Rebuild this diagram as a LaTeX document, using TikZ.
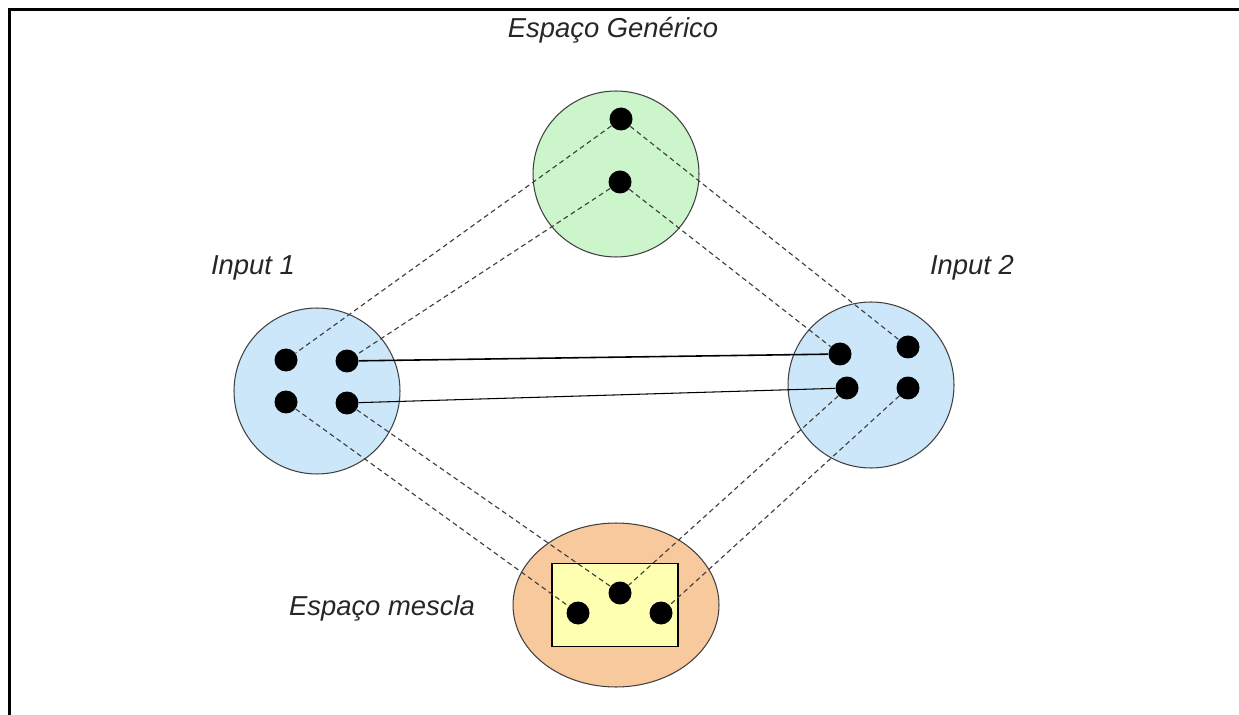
\documentclass[tikz,border=0pt]{standalone}
\usepackage{fontspec}
\setmainfont{Liberation Sans}
\usepackage{tikz}
\usetikzlibrary{positioning,shapes.geometric}
\definecolor{mint}{HTML}{CCF5CC}
\definecolor{skyblue}{HTML}{CCE7F9}
\definecolor{peach}{HTML}{F9C99E}
\definecolor{lemon}{HTML}{FFFFB2}

\tikzset{
  space/.style={circle, draw=black!75, line width=0.6pt, minimum size=3.32cm, inner sep=0pt},
  dot/.style={circle, fill=black, inner sep=0pt, minimum size=0.46cm},
  link/.style={draw=black!75, line width=0.65pt, dash pattern=on 2.8pt off 2pt},
  tie/.style={draw=black, line width=0.9pt},
  spacename/.style={font=\fontsize{15.6}{19}\selectfont\itshape, text=black!85},
}

\begin{document}
\begin{tikzpicture}[x=0.02cm, y=-0.02cm]
        \useasboundingbox (0,0) rectangle (1239,715);
        % Page frame
        \draw[line width=1.4pt] (9.5,715) -- (9.5,9.5) -- (1239,9.5);
        % Spaces
        \node[space, fill=mint] (generic) at (616,174) {};
        \node[space, fill=skyblue] (input1) at (317,391) {};
        \node[space, fill=skyblue] (input2) at (871,385) {};
        \node[ellipse, draw=black!75, line width=0.6pt, fill=peach,
              minimum width=4.12cm, minimum height=3.28cm] (blend) at (616,605) {};
        \node[draw=black, line width=0.8pt, fill=lemon, inner sep=0pt,
              minimum width=2.52cm, minimum height=1.66cm] (blendbox) at (615,605) {};
        % Names
        \node[spacename] (genericname) at (613,30) {Espaço Genérico};
        \node[spacename] (input1name) at (253,268) {Input 1};
        \node[spacename] (input2name) at (972,268) {Input 2};
        \node[spacename] (blendname) at (382,608) {Espaço mescla};
        % Elements
        \node[dot] (g1) at (621,119) {};
        \node[dot] (g2) at (620,182) {};
        \node[dot] (a1) at (286,360) {};
        \node[dot] (a2) at (347,361) {};
        \node[dot] (a3) at (286,402) {};
        \node[dot] (a4) at (347,403) {};
        \node[dot] (b1) at (840,354) {};
        \node[dot] (b2) at (908,347) {};
        \node[dot] (b3) at (847,388) {};
        \node[dot] (b4) at (908,388) {};
        \node[dot] (m1) at (578,613) {};
        \node[dot] (m2) at (620,593) {};
        \node[dot] (m3) at (661,613) {};
        % Mappings
        \foreach \from/\to in {g1/a1, g2/a2, g1/b2, g2/b1, a3/m1, a4/m2, b3/m2, b4/m3}
          \draw[link] (\from) -- (\to);
        \draw[tie] (a2) -- (b1);
        \draw[tie, line width=0.6pt] (a4) -- (b3);
      \end{tikzpicture}
\end{document}
